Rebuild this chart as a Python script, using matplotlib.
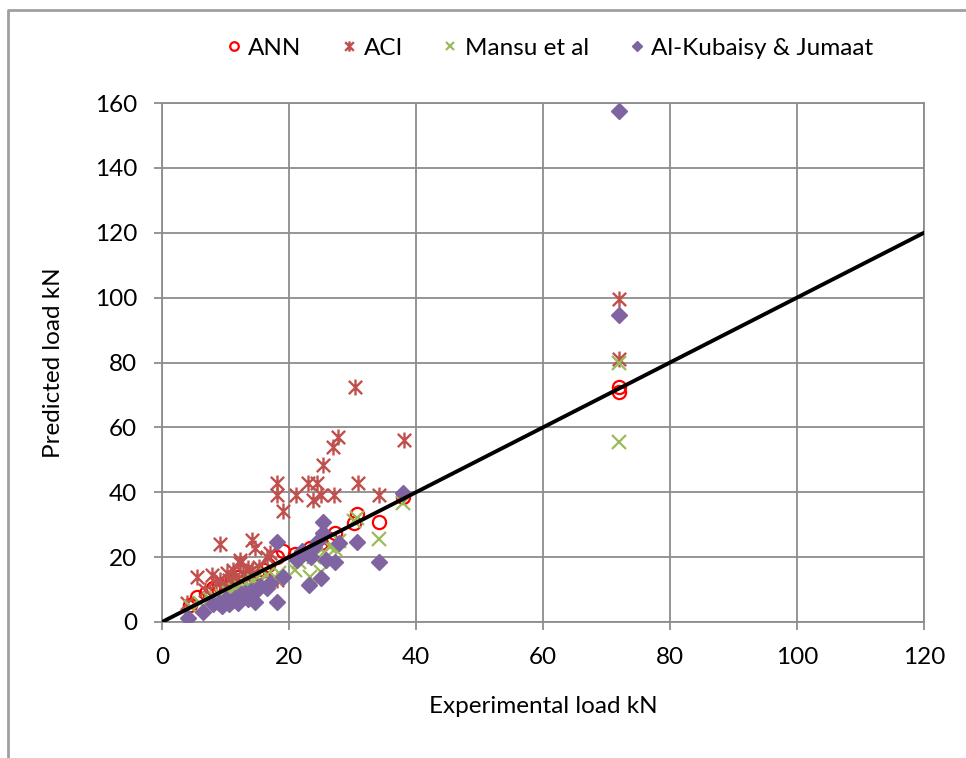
import matplotlib
matplotlib.use('Agg')
import matplotlib.pyplot as plt
from matplotlib.path import Path
from matplotlib.lines import Line2D

plt.rcParams['font.family'] = ['Lato', 'DejaVu Sans']

# experimental vs predicted load (kN)
ann_x = [4.4, 5.5, 7.0, 8.0, 9.0, 10.0, 11.0, 12.0, 13.6, 14.9, 16.0, 16.7, 18.1, 19.1, 20.9,
         23.3, 25.0, 26.5, 27.2, 30.2, 30.7, 34.1, 38.0, 72, 72]
ann_y = [5.2, 7.8, 9.0, 10.5, 11.5, 12.0, 13.0, 14.0, 13.5, 15.0, 16.0, 17.6, 20.1, 21.9, 20.9,
         22.7, 24.5, 25.5, 27.3, 30.6, 33.3, 30.7, 38.5, 72.5, 71.0]

aci_x = [3.9, 5.5, 6.8, 7.8, 8.5, 9.1, 9.1, 9.7, 10.2, 10.5, 11.2, 11.5, 11.8, 12.3, 12.3, 12.8,
         13.3, 13.5, 14.1, 14.1, 14.6, 15.2, 16.5, 17.0, 18.1, 18.1, 18.1, 19.1, 21.1, 23.0, 24.4,
         23.8, 25.1, 25.4, 27.0, 27.7, 27.1, 30.4, 30.8, 34.1, 38.1, 72, 72]
aci_y = [5.8, 14.0, 9.9, 14.5, 12.0, 24.0, 12.9, 10.9, 15.0, 13.0, 16.0, 14.0, 11.9, 18.1, 19.1, 15.0,
         14.0, 16.5, 16.0, 25.3, 22.7, 17.1, 20.1, 21.2, 12.9, 42.7, 39.1, 34.2, 39.1, 42.7, 42.7,
         37.6, 39.1, 48.4, 53.8, 57.1, 39.1, 72.3, 42.7, 39.1, 56.1, 99.5, 81.0]

mansu_x = [4.5, 6.0, 7.5, 8.5, 9.5, 10.5, 11.5, 12.5, 13.5, 14.5, 15.5, 16.5, 18.0, 18.5, 20.9,
           21.5, 23.3, 24.0, 25.1, 25.5, 26.5, 27.2, 27.8, 30.2, 30.7, 34.1, 38.0, 72, 72]
mansu_y = [4.5, 6.0, 7.0, 7.5, 8.0, 9.0, 10.0, 10.5, 11.5, 12.5, 13.0, 14.5, 13.5, 15.0, 16.0,
           18.5, 14.0, 20.0, 15.5, 21.5, 23.0, 22.5, 25.0, 31.0, 32.0, 25.6, 36.6, 80.0, 55.5]

kub_x = [4.1, 6.5, 8.0, 9.0, 9.5, 10.0, 10.5, 11.0, 11.5, 12.0, 12.5, 13.0, 13.5, 14.0, 14.6,
         15.0, 15.5, 16.5, 17.0, 18.1, 18.1, 19.1, 21.2, 22.0, 23.2, 23.5, 24.0, 24.5, 25.1, 25.4,
         25.4, 25.8, 27.2, 27.8, 30.7, 34.1, 38.0, 72, 72]
kub_y = [1.3, 3.2, 5.5, 6.0, 5.0, 7.0, 5.5, 6.5, 7.5, 6.0, 8.5, 9.0, 7.0, 9.5, 6.3,
         10.0, 11.0, 10.5, 12.0, 24.8, 6.3, 14.0, 19.1, 22.0, 11.4, 20.0, 23.0, 25.0, 13.5, 30.9,
         27.4, 19.0, 18.6, 24.3, 24.8, 18.6, 39.7, 157.5, 94.5]

line_x = [0, 120]
line_y = [0, 120]

# excel style star: an x with a vertical bar
star = Path([(-0.5, -0.5), (0.5, 0.5), (-0.5, 0.5), (0.5, -0.5), (0, -0.6), (0, 0.6)],
            [Path.MOVETO, Path.LINETO, Path.MOVETO, Path.LINETO, Path.MOVETO, Path.LINETO])

fig = plt.figure(figsize=(9.66, 7.58), dpi=100)
ax = fig.add_axes([162/966, 1-622/758, (924-162)/966, (622-103)/758])

grid_c = '#8c8c8c'
ax.plot(ann_x, ann_y, 'o', ms=9.5, mfc='none', mec='#FF0000', mew=1.6, label='ANN', zorder=3)
ax.plot(aci_x, aci_y, ls='none', marker=star, ms=11.5, mfc='none', mec='#C0504D', mew=1.7,
        label='ACI', zorder=3)
ax.plot(mansu_x, mansu_y, 'x', ms=9.5, mec='#9BBB59', mew=1.6, label='Mansu et al', zorder=3)
ax.plot(kub_x, kub_y, 'D', ms=8.5, mfc='#8064A2', mec='#8064A2', label='Al-Kubaisy & Jumaat', zorder=3)
ax.plot(line_x, line_y, color='black', lw=2.8, zorder=4)

ax.set_xlim(0, 120)
ax.set_ylim(0, 160)
ax.set_xticks(range(0, 121, 20))
ax.set_yticks(range(0, 161, 20))
ax.grid(True, color=grid_c, lw=1.3)
ax.set_axisbelow(True)
for s in ax.spines.values():
    s.set_color(grid_c)
    s.set_linewidth(1.3)
ax.tick_params(direction='out', length=6, width=1.3, color=grid_c, labelsize=17.5, pad=12)
ax.set_xlabel('Experimental load kN', fontsize=17.5, labelpad=20)
ax.set_ylabel('Predicted load kN', fontsize=17.5, labelpad=22)

fig.legend(loc='center', bbox_to_anchor=(0.568, 1-48/758), ncol=4, frameon=False, fontsize=17.5,
           markerscale=0.65, handletextpad=0.2, columnspacing=1.55, handlelength=0.8)

# outer chart frame
fig.add_artist(Line2D([8/966, 8/966, 1], [0, 1-10/758, 1-10/758], transform=fig.transFigure,
                      color='#a0a0a0', lw=2))

fig.savefig('out.png', dpi=100)
